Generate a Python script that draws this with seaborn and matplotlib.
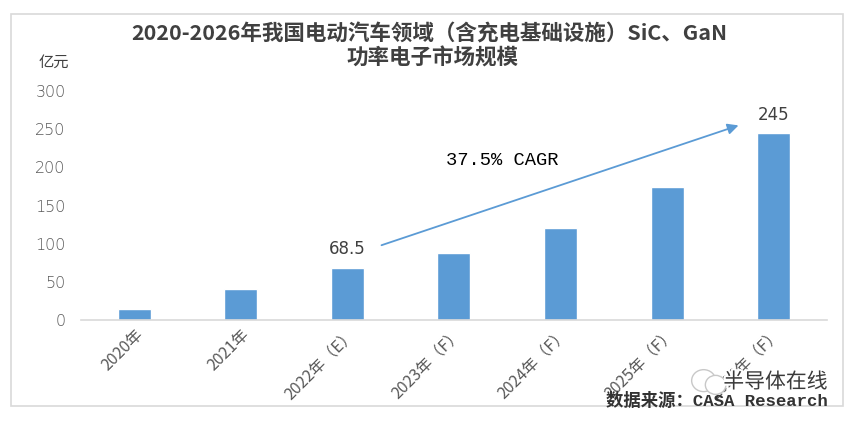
import matplotlib
matplotlib.use('Agg')
import matplotlib.pyplot as plt
import matplotlib.patheffects as pe
from matplotlib.patches import Rectangle, Ellipse
import seaborn as sns
import pandas as pd

# data (unit: 亿元)
years = ['2020年', '2021年', '2022年（E）', '2023年（F）', '2024年（F）', '2025年（F）', '2026年（F）']
market_size = [15, 40, 68.5, 88, 121, 174, 245]
y_ticks = [0, 50, 100, 150, 200, 250, 300]

sns.set_theme(style='white')
plt.rcParams['font.family'] = ['Noto Sans CJK SC', 'DejaVu Sans']

bar_color = '#5B9BD5'
text_color = '#595959'

df = pd.DataFrame({'year': years, 'size': market_size})

fig = plt.figure(figsize=(8.56, 4.22), dpi=100)
ax = fig.add_axes([0.0946, 0.2417, 0.8715, 0.5425])

sns.barplot(data=df, x='year', y='size', color=bar_color, width=0.31,
            saturation=1, ax=ax)

ax.set_ylim(0, 300)
ax.set_xlim(-0.5, len(years) - 0.5)
ax.set_yticks(y_ticks)
ax.set_yticklabels([str(t) for t in y_ticks], fontsize=11.5, color=text_color,
                   family='DejaVu Sans', fontweight='light')
ax.set_xticks(range(len(years)))
ax.set_xticklabels(years, rotation=45, ha='right', rotation_mode='anchor',
                   fontsize=11.5, color=text_color)
ax.tick_params(axis='y', length=0, pad=11)
ax.tick_params(axis='x', length=0, pad=4)
ax.set_xlabel('')
ax.set_ylabel('')
for side in ['top', 'right', 'left']:
    ax.spines[side].set_visible(False)
ax.spines['bottom'].set_color('#d9d9d9')
ax.spines['bottom'].set_linewidth(1.2)

# value labels on first/last highlighted bars
ax.text(2, market_size[2] + 13, '68.5', ha='center', va='bottom', fontsize=12,
        color='#404040', family='DejaVu Sans')
ax.text(6, market_size[6] + 12, '245', ha='center', va='bottom', fontsize=12,
        color='#404040', family='DejaVu Sans')

# CAGR arrow
ax.annotate('', xy=(5.67, 255), xytext=(2.32, 98),
            arrowprops=dict(arrowstyle='-|>', color=bar_color, lw=1.3,
                            mutation_scale=16, shrinkA=0, shrinkB=0))
ax.text(3.45, 209, '37.5% CAGR', ha='center', va='center', fontsize=13.5,
        color='black', family='Liberation Mono')

# title and unit
fig.text(0.502, 0.920, '2020-2026年我国电动汽车领域（含充电基础设施）SiC、GaN',
         ha='center', va='center', fontsize=15.5, fontweight='bold', color='#404040')
fig.text(0.505, 0.862, '功率电子市场规模', ha='center', va='center',
         fontsize=15.5, fontweight='bold', color='#404040')
fig.text(0.063, 0.853, '亿元', ha='center', va='center', fontsize=11, color='#404040')

# chart border
fig.patches.append(Rectangle((0.013, 0.038), 0.972, 0.93, transform=fig.transFigure,
                             fill=False, edgecolor='#d9d9d9', lw=1.2))

# watermark and source
fig.patches.append(Ellipse((0.822, 0.098), 0.028, 0.052, transform=fig.transFigure,
                           fill=False, edgecolor='#c8c8c8', lw=1))
fig.patches.append(Ellipse((0.836, 0.088), 0.024, 0.045, transform=fig.transFigure,
                           facecolor='white', edgecolor='#c8c8c8', lw=1))
fig.text(0.906, 0.095, '半导体在线', ha='center', va='center', fontsize=15,
         color='#3a3a3a', fontweight='light',
         path_effects=[pe.withStroke(linewidth=3, foreground='white')])
fig.text(0.967, 0.052, '数据来源：CASA Research', ha='right', va='center',
         fontsize=12.5, fontweight='bold', color='#333333',
         family=['Liberation Mono', 'Noto Sans CJK SC'])

fig.savefig('out.png', dpi=100)
